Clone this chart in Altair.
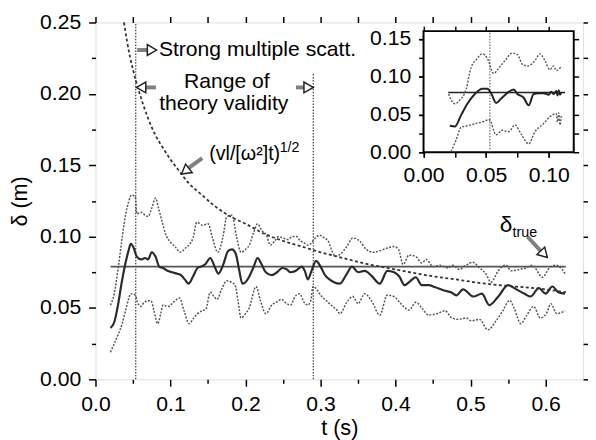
import altair as alt
import pandas as pd

FONT = "Liberation Sans"

# ---------------- main panel data (t in s, delta in m) ----------------
est_t = [0.020, 0.025, 0.030, 0.035, 0.039, 0.044, 0.047, 0.051, 0.055, 0.061, 0.066, 0.070, 0.075, 0.080,
         0.085, 0.090, 0.096, 0.102, 0.109, 0.114, 0.119, 0.124, 0.130, 0.136, 0.141, 0.147, 0.153, 0.158,
         0.164, 0.170, 0.177, 0.182, 0.187, 0.191, 0.196, 0.200, 0.205, 0.211, 0.216, 0.221, 0.227, 0.235,
         0.242, 0.249, 0.255, 0.260, 0.267, 0.275, 0.279, 0.283, 0.288, 0.294, 0.300, 0.306, 0.312, 0.318,
         0.326, 0.334, 0.342, 0.350, 0.359, 0.368, 0.379, 0.389, 0.398, 0.405, 0.412, 0.420, 0.427, 0.435,
         0.444, 0.453, 0.466, 0.474, 0.481, 0.490, 0.504, 0.515, 0.525, 0.537, 0.550, 0.561, 0.572, 0.580,
         0.591, 0.600, 0.609, 0.617, 0.626]
est_d = [0.036, 0.040, 0.052, 0.068, 0.079, 0.090, 0.095, 0.092, 0.086, 0.084, 0.085, 0.084, 0.089, 0.086,
         0.079, 0.078, 0.076, 0.075, 0.074, 0.073, 0.070, 0.067, 0.072, 0.078, 0.079, 0.081, 0.085, 0.080,
         0.074, 0.080, 0.090, 0.091, 0.088, 0.078, 0.067, 0.068, 0.072, 0.079, 0.085, 0.081, 0.075, 0.073,
         0.075, 0.078, 0.077, 0.075, 0.076, 0.079, 0.076, 0.070, 0.076, 0.083, 0.079, 0.073, 0.070, 0.068,
         0.067, 0.073, 0.079, 0.075, 0.076, 0.0725, 0.067, 0.076, 0.075, 0.072, 0.066, 0.069, 0.0715, 0.066,
         0.066, 0.0645, 0.062, 0.061, 0.0588, 0.063, 0.058, 0.060, 0.052, 0.058, 0.066, 0.063, 0.060, 0.058,
         0.064, 0.060, 0.065, 0.061, 0.060]

up_t = [0.020, 0.025, 0.030, 0.035, 0.040, 0.044, 0.048, 0.053, 0.055, 0.061, 0.066, 0.070, 0.075, 0.080,
        0.084, 0.088, 0.094, 0.100, 0.106, 0.113, 0.120, 0.126, 0.130, 0.135, 0.143, 0.150, 0.156, 0.163,
        0.170, 0.175, 0.182, 0.188, 0.194, 0.200, 0.205, 0.211, 0.216, 0.222, 0.228, 0.233, 0.239, 0.244,
        0.250, 0.257, 0.262, 0.268, 0.273, 0.277, 0.283, 0.287, 0.293, 0.299, 0.305, 0.310, 0.316, 0.320,
        0.326, 0.335, 0.343, 0.352, 0.361, 0.370, 0.379, 0.389, 0.398, 0.404, 0.410, 0.418, 0.427, 0.435,
        0.441, 0.450, 0.459, 0.470, 0.476, 0.485, 0.494, 0.503, 0.512, 0.521, 0.527, 0.537, 0.547, 0.554,
        0.565, 0.574, 0.582, 0.596, 0.605, 0.613, 0.622, 0.627]
up_d = [0.052, 0.060, 0.077, 0.097, 0.115, 0.124, 0.129, 0.128, 0.116, 0.117, 0.115, 0.114, 0.120, 0.127,
        0.120, 0.112, 0.101, 0.096, 0.093, 0.089, 0.092, 0.095, 0.099, 0.110, 0.108, 0.109, 0.099, 0.089,
        0.100, 0.114, 0.115, 0.100, 0.089, 0.091, 0.094, 0.103, 0.109, 0.104, 0.101, 0.094, 0.097, 0.100,
        0.099, 0.098, 0.100, 0.100, 0.097, 0.096, 0.094, 0.095, 0.099, 0.101, 0.099, 0.097, 0.089, 0.086,
        0.0875, 0.093, 0.099, 0.097, 0.091, 0.089, 0.090, 0.092, 0.093, 0.091, 0.0805, 0.087, 0.086, 0.0815,
        0.084, 0.079, 0.080, 0.078, 0.080, 0.077, 0.080, 0.082, 0.078, 0.0735, 0.068, 0.076, 0.080, 0.076,
        0.077, 0.078, 0.080, 0.0715, 0.078, 0.080, 0.077, 0.073]

lo_t = [0.020, 0.025, 0.030, 0.035, 0.040, 0.044, 0.047, 0.053, 0.056, 0.060, 0.065, 0.070, 0.074, 0.078,
        0.083, 0.087, 0.090, 0.097, 0.104, 0.112, 0.118, 0.125, 0.131, 0.136, 0.142, 0.147, 0.153, 0.158,
        0.162, 0.168, 0.175, 0.181, 0.186, 0.190, 0.194, 0.200, 0.205, 0.214, 0.220, 0.227, 0.235, 0.241,
        0.248, 0.255, 0.260, 0.266, 0.272, 0.278, 0.283, 0.287, 0.290, 0.295, 0.300, 0.306, 0.314, 0.321,
        0.326, 0.335, 0.343, 0.350, 0.359, 0.368, 0.379, 0.389, 0.398, 0.407, 0.418, 0.427, 0.435, 0.444,
        0.455, 0.466, 0.475, 0.484, 0.494, 0.501, 0.512, 0.523, 0.534, 0.543, 0.552, 0.558, 0.567, 0.575,
        0.584, 0.593, 0.602, 0.607, 0.615, 0.626]
lo_d = [0.019, 0.025, 0.031, 0.038, 0.048, 0.056, 0.060, 0.059, 0.054, 0.051, 0.054, 0.055, 0.055, 0.048,
        0.039, 0.046, 0.052, 0.051, 0.054, 0.057, 0.048, 0.039, 0.043, 0.046, 0.048, 0.049, 0.061, 0.058,
        0.056, 0.063, 0.069, 0.068, 0.066, 0.055, 0.043, 0.046, 0.050, 0.065, 0.055, 0.046, 0.052, 0.054,
        0.056, 0.053, 0.052, 0.058, 0.060, 0.054, 0.052, 0.055, 0.065, 0.063, 0.059, 0.056, 0.052, 0.049,
        0.046, 0.054, 0.058, 0.053, 0.060, 0.055, 0.045, 0.059, 0.058, 0.053, 0.0485, 0.054, 0.050, 0.045,
        0.046, 0.048, 0.043, 0.042, 0.043, 0.041, 0.042, 0.0347, 0.041, 0.048, 0.0553, 0.050, 0.039, 0.045,
        0.051, 0.043, 0.047, 0.053, 0.046, 0.048]

theory_t = [0.038, 0.042, 0.046, 0.050, 0.055, 0.062, 0.070, 0.080, 0.090, 0.100, 0.110, 0.125, 0.140,
            0.160, 0.180, 0.200, 0.225, 0.250, 0.275, 0.300, 0.330, 0.360, 0.400, 0.440, 0.480, 0.520,
            0.560, 0.600, 0.627]
theory_d = [0.250, 0.237, 0.226, 0.217, 0.207, 0.195, 0.183, 0.171, 0.162, 0.154, 0.147, 0.137, 0.130,
            0.121, 0.114, 0.109, 0.102, 0.097, 0.093, 0.089, 0.085, 0.081, 0.077, 0.073, 0.070, 0.067,
            0.065, 0.063, 0.061]

delta_true = 0.079
true_span = [0.020, 0.627]
vline_t = [0.0536, 0.2904]
vline_top = [0.25, 0.215]

# ---------------- inset data ----------------
in_est_t = [0.021, 0.025, 0.030, 0.035, 0.041, 0.047, 0.051, 0.054, 0.058, 0.062, 0.066, 0.072, 0.075,
            0.080, 0.084, 0.088, 0.092, 0.096, 0.100, 0.102, 0.104, 0.106, 0.107, 0.108, 0.109, 0.110]
in_est_d = [0.035, 0.034, 0.049, 0.064, 0.077, 0.084, 0.084, 0.078, 0.065, 0.071, 0.077, 0.083, 0.077,
            0.072, 0.062, 0.077, 0.078, 0.078, 0.076, 0.080, 0.077, 0.081, 0.075, 0.082, 0.076, 0.079]
in_up_t = [0.020, 0.025, 0.029, 0.034, 0.038, 0.042, 0.047, 0.051, 0.056, 0.060, 0.065, 0.071, 0.075,
           0.079, 0.083, 0.089, 0.093, 0.097, 0.101, 0.104, 0.106, 0.110]
in_up_d = [0.077, 0.064, 0.069, 0.083, 0.112, 0.122, 0.130, 0.124, 0.104, 0.111, 0.121, 0.131, 0.129,
           0.116, 0.114, 0.121, 0.130, 0.121, 0.109, 0.114, 0.108, 0.113]
in_lo_t = [0.022, 0.026, 0.030, 0.035, 0.042, 0.047, 0.0525, 0.058, 0.063, 0.068, 0.073, 0.078, 0.084,
           0.089, 0.096, 0.101, 0.106, 0.107, 0.108, 0.109, 0.110]
in_lo_d = [0.001, 0.016, 0.033, 0.035, 0.038, 0.040, 0.043, 0.023, 0.029, 0.027, 0.036, 0.024, 0.011,
           0.027, 0.038, 0.047, 0.051, 0.040, 0.052, 0.036, 0.048]
in_true_span = [0.0197, 0.113]
in_vline_t = 0.053

# ---------------- ticks ----------------
mx_major = [0.0, 0.1, 0.2, 0.3, 0.4, 0.5, 0.6]
mx_minor = [0.05, 0.15, 0.25, 0.35, 0.45, 0.55]
mx_all = [0.0, 0.05, 0.1, 0.15, 0.2, 0.25, 0.3, 0.35, 0.4, 0.45, 0.5, 0.55, 0.6]
my_major = [0.0, 0.05, 0.10, 0.15, 0.20, 0.25]
my_minor = [0.025, 0.075, 0.125, 0.175, 0.225]
my_all = [0.0, 0.025, 0.05, 0.075, 0.10, 0.125, 0.15, 0.175, 0.20, 0.225, 0.25]
ix_major = [0.0, 0.05, 0.10]
ix_all = [0.0, 0.025, 0.05, 0.075, 0.10]
iy_major = [0.0, 0.05, 0.10, 0.15]
iy_all = [0.0, 0.025, 0.05, 0.075, 0.10, 0.125, 0.15]

W, H = 496, 363
XM = alt.Scale(domain=[0, 0.65], nice=False, zero=False)
YM = alt.Scale(domain=[0, 0.25], nice=False, zero=False)
XI = alt.Scale(domain=[0, 0.12], range=[333.7, 486.5], nice=False, zero=False)
YI = alt.Scale(domain=[0, 0.16], range=[132.0, 8.8], nice=False, zero=False)
INTERP = "monotone"


def axis(orient, values, size, labels=False, fmt=".2f", title=None, offset=0, title_pad=8):
    kw = dict(orient=orient, values=values, tickSize=size, tickWidth=1.5, tickColor="black",
              domain=False, grid=False, labels=labels, offset=offset, zindex=1)
    if labels:
        kw.update(format=fmt, labelFont=FONT, labelFontSize=21.5, labelColor="black",
                  labelPadding=8, labelFlush=False, labelOverlap=False)
    if title:
        kw.update(title=title, titleFont=FONT, titleFontSize=22, titleFontWeight="normal",
                  titleColor="black", titlePadding=title_pad)
    else:
        kw["title"] = None
    return alt.Axis(**kw)


one = pd.DataFrame({"k": [0]})


def series(t, d):
    return pd.DataFrame({"t": t, "d": d})


# ---------------- main layers ----------------
est = alt.Chart(series(est_t, est_d)).mark_line(color="#2a2a2a", strokeWidth=2.2, interpolate=INTERP).encode(
    x=alt.X("t:Q", scale=XM, axis=axis("bottom", mx_major, 7, labels=True, fmt=".1f", title="t (s)", title_pad=3)),
    y=alt.Y("d:Q", scale=YM, axis=axis("left", my_major, 7, labels=True, fmt=".2f", title="δ (m)", title_pad=8)),
)
upper = alt.Chart(series(up_t, up_d)).mark_line(color="#555", strokeWidth=1.5, strokeDash=[2, 1.5],
                                                interpolate=INTERP).encode(
    x=alt.X("t:Q", scale=XM, axis=axis("bottom", mx_minor, 4)),
    y=alt.Y("d:Q", scale=YM, axis=axis("left", my_minor, 4)),
)
lower = alt.Chart(series(lo_t, lo_d)).mark_line(color="#555", strokeWidth=1.5, strokeDash=[2, 1.5],
                                                interpolate=INTERP).encode(
    x=alt.X("t:Q", scale=XM, axis=axis("top", mx_all, 6)),
    y=alt.Y("d:Q", scale=YM, axis=axis("right", my_all, 6)),
)
theory = alt.Chart(series(theory_t, theory_d)).mark_line(color="#333", strokeWidth=1.8, strokeDash=[3, 2.5],
                                                         interpolate=INTERP).encode(
    x=alt.X("t:Q", scale=XM, axis=None),
    y=alt.Y("d:Q", scale=YM, axis=None),
)
true_line = alt.Chart(one).mark_rule(color="#555", strokeWidth=1.8).encode(
    x=alt.XDatum(true_span[0], scale=XM, axis=None), x2=alt.X2Datum(true_span[1]),
    y=alt.YDatum(delta_true, scale=YM, axis=None),
)
vl_df = pd.DataFrame({"t": vline_t, "top": vline_top, "bot": [0.0, 0.0]})
vlines = alt.Chart(vl_df).mark_rule(color="#555", strokeWidth=1.4, strokeDash=[1.5, 1.5]).encode(
    x=alt.X("t:Q", scale=XM, axis=None),
    y=alt.Y("bot:Q", scale=YM, axis=None), y2="top:Q",
)


def text(s, t, d, size=21.5, align="left", weight="normal"):
    return alt.Chart(one).mark_text(text=s, align=align, baseline="alphabetic", font=FONT,
                                    fontSize=size, color="black", fontWeight=weight).encode(
        x=alt.XDatum(t, scale=XM, axis=None), y=alt.YDatum(d, scale=YM, axis=None))


def shaft(t0, d0, t1, d1):
    return alt.Chart(one).mark_rule(color="#808080", strokeWidth=4).encode(
        x=alt.XDatum(t0, scale=XM, axis=None), x2=alt.X2Datum(t1),
        y=alt.YDatum(d0, scale=YM, axis=None), y2=alt.Y2Datum(d1))


def head(t, d, ang):
    return alt.Chart(one).mark_point(shape="triangle-right", size=120, filled=True, fill="white",
                                     stroke="#222", strokeWidth=1.5, opacity=1, angle=ang).encode(
        x=alt.XDatum(t, scale=XM, axis=None), y=alt.YDatum(d, scale=YM, axis=None))


annots = [
    text("Strong multiple scatt.", 0.0845, 0.2266),
    text("Range of", 0.175, 0.2040, align="center"),
    text("theory validity", 0.171, 0.1885, align="center"),
    text("(vl/[ω²]t)", 0.1515, 0.1536, size=20),
    text("1/2", 0.2455, 0.1595, size=14.5),
    text("δ", 0.539, 0.1033, size=23),
    text("true", 0.556, 0.0999, size=14.5),
    shaft(0.0556, 0.2307, 0.0700, 0.2307), head(0.0753, 0.2307, 0),
    shaft(0.0661, 0.2045, 0.0805, 0.2045), head(0.0608, 0.2045, 180),
    shaft(0.2672, 0.2045, 0.2789, 0.2045), head(0.2841, 0.2045, 0),
    shaft(0.1423, 0.1550, 0.1226, 0.1474), head(0.1196, 0.1458, 142),
    shaft(0.5759, 0.0999, 0.5943, 0.0895), head(0.5980, 0.0877, 46),
]

main = alt.layer(vlines, true_line, theory, upper, lower, est, *annots).resolve_axis(
    x="independent", y="independent")

# ---------------- inset layers ----------------
frame = alt.Chart(one).mark_rect(fill="white", stroke="black", strokeWidth=2).encode(
    x=alt.XDatum(0, scale=XI, axis=None), x2=alt.X2Datum(0.12),
    y=alt.YDatum(0, scale=YI, axis=None), y2=alt.Y2Datum(0.16))
in_vline = alt.Chart(one).mark_rule(color="#666", strokeWidth=1.2, strokeDash=[1.5, 1.5]).encode(
    x=alt.XDatum(in_vline_t, scale=XI, axis=None),
    y=alt.YDatum(0, scale=YI, axis=None), y2=alt.Y2Datum(0.16))
in_true = alt.Chart(one).mark_rule(color="#222", strokeWidth=1.6).encode(
    x=alt.XDatum(in_true_span[0], scale=XI, axis=None), x2=alt.X2Datum(in_true_span[1]),
    y=alt.YDatum(delta_true, scale=YI, axis=None))
in_up = alt.Chart(series(in_up_t, in_up_d)).mark_line(color="#555", strokeWidth=1.4, strokeDash=[2, 1.5],
                                                      interpolate=INTERP).encode(
    x=alt.X("t:Q", scale=XI, axis=axis("top", ix_all, 5, offset=-8.8)),
    y=alt.Y("d:Q", scale=YI, axis=axis("right", iy_all, 5, offset=-9.5)),
)
in_lo = alt.Chart(series(in_lo_t, in_lo_d)).mark_line(color="#555", strokeWidth=1.4, strokeDash=[2, 1.5],
                                                      interpolate=INTERP).encode(
    x=alt.X("t:Q", scale=XI, axis=axis("bottom", ix_all, 5, offset=-231)),
    y=alt.Y("d:Q", scale=YI, axis=axis("left", iy_all, 5, offset=-333.7)),
)
in_est = alt.Chart(series(in_est_t, in_est_d)).mark_line(color="#222", strokeWidth=2, interpolate=INTERP).encode(
    x=alt.X("t:Q", scale=XI, axis=axis("bottom", ix_major, 5, labels=True, offset=-231)),
    y=alt.Y("d:Q", scale=YI, axis=axis("left", iy_major, 5, labels=True, offset=-333.7)),
)

inset = alt.layer(frame, in_vline, in_true, in_up, in_lo, in_est).resolve_axis(
    x="independent", y="independent")

chart = alt.layer(main, inset).resolve_scale(x="independent", y="independent").properties(
    width=W, height=H,
    autosize=alt.AutoSizeParams(type="none"),
    padding={"left": 89, "top": 11, "right": 5, "bottom": 58},
).configure_view(stroke="black", strokeWidth=2).configure(background="white")

chart.save("out.html", embed_options={"renderer": "svg", "actions": False})
